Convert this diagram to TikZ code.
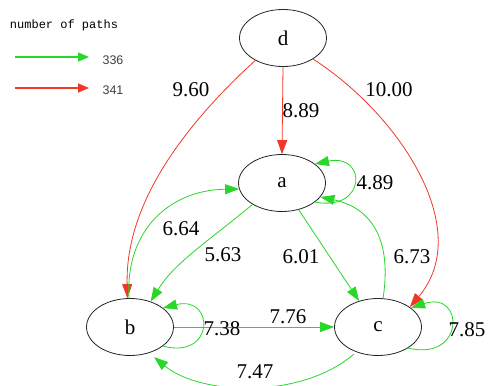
\documentclass[tikz,border=0pt]{standalone}
\usepackage{fontspec}
\setmainfont{Liberation Serif}
\newfontfamily\legmono{Liberation Mono}
\newfontfamily\legsans{Liberation Sans}
\usetikzlibrary{arrows.meta,shapes.geometric}
\definecolor{gedge}{RGB}{40,215,40}
\definecolor{redge}{RGB}{240,55,40}
\begin{document}
\begin{tikzpicture}[x=1pt,y=-1pt,
  vert/.style={ellipse, draw=black!85, line width=0.8pt, minimum width=87pt, minimum height=57pt, inner sep=0pt, font=\fontsize{21}{21}\selectfont},
  lab/.style={inner sep=0pt, font=\fontsize{21}{21}\selectfont},
  ge/.style={draw=gedge, line width=0.8pt, -{Triangle[length=14pt,width=10pt]}},
  re/.style={draw=redge, line width=0.8pt, -{Triangle[length=14pt,width=10pt]}},
  gleg/.style={draw=gedge, line width=1.4pt, -{Triangle[length=11pt,width=9pt]}},
  rleg/.style={draw=redge, line width=1.4pt, -{Triangle[length=11pt,width=9pt]}},
  legt/.style={inner sep=0pt, text=black!75, font=\legsans\fontsize{12.5}{12.5}\selectfont}
]
\useasboundingbox[fill=white] (0,0) rectangle (488,386);

% legend
\node[inner sep=0pt, font=\legmono\fontsize{12}{12}\selectfont] (legtitle) at (64,25) {number of paths};
\coordinate (g1) at (15,57); \coordinate (g2) at (89,57);
\coordinate (r1) at (15,88); \coordinate (r2) at (89,88);
\draw[gleg] (g1) -- (g2);
\draw[rleg] (r1) -- (r2);
\node[legt] (l336) at (113,60) {336};
\node[legt] (l341) at (113,90) {341};

% vertices
\node[vert] (d) at (283,38) {d};
\node[vert] (a) at (282,183) {a};
\node[vert] (b) at (130,327) {b};
\node[vert] (c) at (378,327) {c};

% red edges
\draw[re] (d.south) -- (a.north);
\draw[re] (d.219) .. controls (190,120) and (125,200) .. (b.95);
\draw[re] (d.-35) .. controls (400,115) and (475,230) .. (c.32);

% green edges
\draw[ge] (a.-30) .. controls (367,212) and (367,153) .. (a.30);
\draw[ge] (b.92) .. controls (125,230) and (170,190) .. (a.188);
\draw[ge] (a.216) .. controls (210,240) and (175,262) .. (b.51);
\draw[ge] (a.-58) -- (c.126);
\draw[ge] (c.80) .. controls (392,240) and (372,208) .. (a.-20);
\draw[ge] (b.east) -- (c.west);
\draw[ge] (b.-30) .. controls (215,360) and (215,295) .. (b.30);
\draw[ge] (c.-35) .. controls (465,362) and (465,290) .. (c.30);
\draw[ge] ([yshift=-3pt]c.225) .. controls (300,400) and (200,395) .. ([yshift=-6pt]b.-45);

% labels
\node[lab] (t960) at (191,90) {9.60};
\node[lab] (t889) at (301,111) {8.89};
\node[lab] (t1000) at (389,90) {10.00};
\node[lab] (t489) at (375,183) {4.89};
\node[lab] (t664) at (181,229) {6.64};
\node[lab] (t563) at (223,255) {5.63};
\node[lab] (t601) at (301,257) {6.01};
\node[lab] (t673) at (412,257) {6.73};
\node[lab] (t776) at (288,317) {7.76};
\node[lab] (t738) at (222,329) {7.38};
\node[lab] (t747) at (255,372) {7.47};
\node[lab] (t785) at (467,330) {7.85};
\end{tikzpicture}
\end{document}
